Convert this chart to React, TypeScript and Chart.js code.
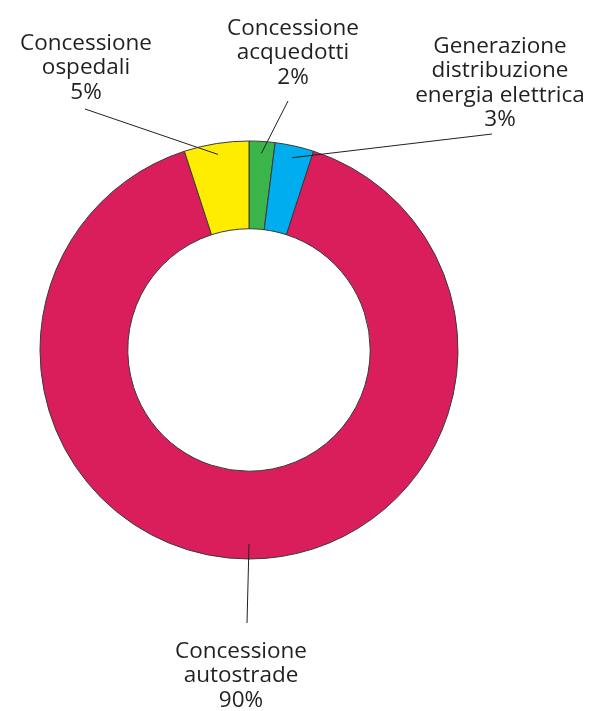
import React, { useEffect, useRef } from "react";
import { Chart, registerables } from "chart.js";

Chart.register(...registerables);

// ---- data ----
const categories = [
  "Concessione acquedotti",
  "Generazione distribuzione energia elettrica",
  "Concessione autostrade",
  "Concessione ospedali",
];
const categoryLines = [
  ["Concessione", "acquedotti"],
  ["Generazione", "distribuzione", "energia elettrica"],
  ["Concessione", "autostrade"],
  ["Concessione", "ospedali"],
];
const shares = [2, 3, 90, 5];
const colors = ["#3BB54A", "#00AEEF", "#DA1E5C", "#FFED00"];

// ---- label layout (text anchor, leader end, leader radius) ----
const labelLayout = [
  { x: 293, y: 35, lx: 288, ly: 101, r: 197 },
  { x: 500, y: 53, lx: 492, ly: 134, r: 197 },
  { x: 241, y: 658, lx: 247, ly: 623, r: 194 },
  { x: 86, y: 50, lx: 85, ly: 109, r: 198 },
];

const W = 589;
const H = 711;
const FONT = '22.5px "Open Sans", sans-serif';
const LINE_H = 24.3;
const INK = "#231f20";

const labelPlugin = {
  id: "leaderLabels",
  afterDatasetsDraw(chart: any) {
    const ctx = chart.ctx;
    const meta = chart.getDatasetMeta(0);
    ctx.save();
    meta.data.forEach((arc: any, i: number) => {
      const p = arc.getProps(["x", "y", "startAngle", "endAngle"], true);
      const mid = (p.startAngle + p.endAngle) / 2;
      const L = labelLayout[i];
      const ix = p.x + Math.cos(mid) * L.r;
      const iy = p.y + Math.sin(mid) * L.r;
      ctx.strokeStyle = INK;
      ctx.lineWidth = 1;
      ctx.beginPath();
      ctx.moveTo(L.lx, L.ly);
      ctx.lineTo(ix, iy);
      ctx.stroke();

      const lines = [...categoryLines[i], `${shares[i]}%`];
      ctx.fillStyle = INK;
      ctx.font = FONT;
      ctx.textAlign = "center";
      ctx.textBaseline = "alphabetic";
      lines.forEach((t, k) => ctx.fillText(t, L.x, L.y + k * LINE_H));
    });
    ctx.restore();
  },
};

export default function App() {
  const ref = useRef<HTMLCanvasElement | null>(null);
  useEffect(() => {
    document.body.style.margin = "0";
    const canvas = ref.current;
    if (!canvas) return;
    const chart = new Chart(canvas, {
      type: "doughnut",
      data: {
        labels: categories,
        datasets: [
          {
            data: shares,
            backgroundColor: colors,
            borderColor: "#3a3a3a",
            borderWidth: 1,
            radius: 209,
          } as any,
        ],
      },
      options: {
        responsive: false,
        animation: false,
        cutout: "58%",
        rotation: 0,
        layout: { padding: { left: 40, right: 131, top: 141, bottom: 152 } },
        plugins: {
          legend: { display: false },
          tooltip: { enabled: false },
        },
      },
      plugins: [labelPlugin],
    });
    return () => chart.destroy();
  }, []);
  return (
    <div style={{ width: W, height: H, background: "#fff" }}>
      <canvas ref={ref} width={W} height={H} style={{ display: "block" }} />
    </div>
  );
}
